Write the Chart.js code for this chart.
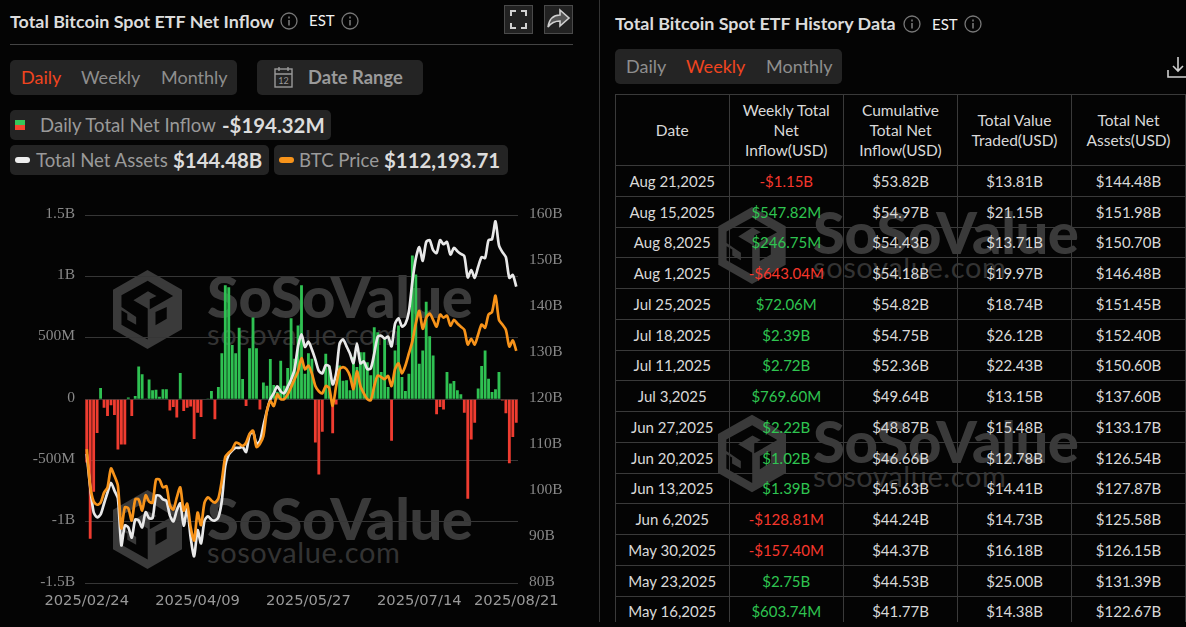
<!DOCTYPE html>
<html>
<head>
<meta charset="utf-8">
<title>Total Bitcoin Spot ETF Net Inflow</title>
<script src="https://cdn.jsdelivr.net/npm/chart.js@4"></script>
<style>
    html, body { margin: 0; padding: 0; background: #040404; }
    body { width: 1186px; height: 627px; overflow: hidden; position: relative; font-family: Lato, sans-serif; color: #d9d9d9; }
    .abs { position: absolute; white-space: nowrap; }
    .panel { background: #242424; border-radius: 5px; }
    .title { font-size: 17.9px; font-weight: 700; color: #dcdcdc; }
    .est { font-size: 15px; color: #f2f2f2; }
    .tab { font-size: 18px; color: #8e8e8e; }
    .active { color: #f0441f; }
    .legend-name { font-size: 18.6px; color: #9a9a9a; }
    .legend-value { font-size: 20.4px; font-weight: 700; color: #dcdcdc; }
    .wm-big { font-size: 58px; font-weight: 900; color: #3a3a3a; letter-spacing: -0.5px; line-height: 1; }
    .wm-small { font-size: 29px; color: #333; letter-spacing: 0.6px; line-height: 1; }
    #chart-wrap { position: absolute; left: 0; top: 195px; width: 590px; height: 425px; }
    #table-wrap { position: absolute; left: 615px; top: 94px; width: 571px; height: 528px; overflow: hidden; }
    table { border-collapse: collapse; table-layout: fixed; width: 570px; font-size: 15px; color: #d9d9d9; }
    th, td { border: 1px solid #3a3a3a; text-align: center; padding: 0; font-weight: 400; }
    th { height: 70px; line-height: 20px; font-size: 15.5px; }
    td { height: 29.75px; }
    .up { color: #2fc451; }
    .down { color: #f5372c; }
</style>
</head>
<body>

<!-- Watermarks sit behind the chart and the table -->
<div id="watermarks"></div>

<div class="abs" style="left:599px;top:0;width:1px;height:622px;background:#333"></div>

<!-- Left panel header -->
<div class="abs title" style="left:10px;top:10px">Total Bitcoin Spot ETF Net Inflow</div>
<div class="abs info" style="left:280px;top:12px"></div>
<div class="abs est" style="left:309px;top:11px">EST</div>
<div class="abs info" style="left:341px;top:12px"></div>
<div class="abs" style="left:504px;top:5px;width:29px;height:29px;background:#222;border:1px solid #4a4a4a;box-sizing:border-box">
    <svg width="27" height="27" fill="none" stroke="#d0d0d0" stroke-width="2"><path d="M6 10V5h5M16 5h5v5M21 17v5h-5M11 22H6v-5"/></svg>
</div>
<div class="abs" style="left:544px;top:5px;width:29px;height:29px;background:#222;border:1px solid #4a4a4a;box-sizing:border-box">
    <svg width="27" height="27"><path d="M15 4l9 8-9 8v-5c-6 0-9 2-12 6 1-7 5-12 12-12z" fill="#555" stroke="#d0d0d0" stroke-width="1.6"/></svg>
</div>
<div class="abs" style="left:10px;top:44px;width:563px;height:1px;background:#444"></div>

<div class="abs panel" style="left:10px;top:60px;width:227px;height:35px"></div>
<div class="abs tab active" style="left:21px;top:66px">Daily</div>
<div class="abs tab" style="left:81px;top:66px">Weekly</div>
<div class="abs tab" style="left:161px;top:66px">Monthly</div>
<div class="abs panel" style="left:257px;top:60px;width:166px;height:35px"></div>
<svg class="abs" style="left:274px;top:66px" width="20" height="23" fill="none" stroke="#9a9a9a" stroke-width="1.4">
    <rect x="1" y="3" width="17" height="18"/><path d="M1 8h17M5 1v4M14 1v4"/>
    <text x="9.5" y="18" font-size="9" font-family="Lato" fill="#9a9a9a" stroke="none" text-anchor="middle">12</text>
</svg>
<div class="abs" style="left:308px;top:66px;font-size:18.4px;font-weight:700;color:#9a9a9a">Date Range</div>

<!-- Legend chips -->
<div class="abs panel" style="left:10px;top:110px;width:321px;height:30px"></div>
<div class="abs" style="left:15px;top:120px;width:10px;height:5px;background:#35c75a"></div>
<div class="abs" style="left:15px;top:125px;width:10px;height:5px;background:#f5442f"></div>
<div class="abs legend-name" style="left:40px;top:114px">Daily Total Net Inflow</div>
<div class="abs legend-value" style="left:222px;top:113px">-$194.32M</div>

<div class="abs panel" style="left:10px;top:145px;width:259px;height:30px"></div>
<div class="abs" style="left:15px;top:157px;width:15px;height:6px;border-radius:3px;background:#eee"></div>
<div class="abs legend-name" style="left:36px;top:149px">Total Net Assets</div>
<div class="abs legend-value" style="left:173px;top:148px">$144.48B</div>

<div class="abs panel" style="left:274px;top:145px;width:234px;height:30px"></div>
<div class="abs" style="left:279px;top:157px;width:15px;height:6px;border-radius:3px;background:#f7931a"></div>
<div class="abs legend-name" style="left:299px;top:149px">BTC Price</div>
<div class="abs legend-value" style="left:384px;top:148px">$112,193.71</div>

<!-- Right panel header -->
<div class="abs title" style="left:615px;top:12px">Total Bitcoin Spot ETF History Data</div>
<div class="abs info" style="left:903px;top:15px"></div>
<div class="abs est" style="left:932px;top:15px">EST</div>
<div class="abs info" style="left:964px;top:15px"></div>
<div class="abs panel" style="left:615px;top:49px;width:227px;height:35px"></div>
<div class="abs tab" style="left:626px;top:55px">Daily</div>
<div class="abs tab active" style="left:686px;top:55px">Weekly</div>
<div class="abs tab" style="left:766px;top:55px">Monthly</div>
<svg class="abs" style="left:1166px;top:56px" width="20" height="22" fill="none" stroke="#cfcfcf" stroke-width="1.6"><path d="M12 1v14M7 10l5 5 5-5M2 14v7h18"/></svg>

<div id="chart-wrap"><canvas id="etf-chart" width="590" height="425"></canvas></div>
<div id="table-wrap"></div>

<script>
// Trading days on the category axis
const tradingDays = [
    '2025/02/24','2025/02/25','2025/02/26','2025/02/27','2025/02/28',
    '2025/03/03','2025/03/04','2025/03/05','2025/03/06','2025/03/07','2025/03/10','2025/03/11','2025/03/12','2025/03/13','2025/03/14',
    '2025/03/17','2025/03/18','2025/03/19','2025/03/20','2025/03/21','2025/03/24','2025/03/25','2025/03/26','2025/03/27','2025/03/28','2025/03/31',
    '2025/04/01','2025/04/02','2025/04/03','2025/04/04','2025/04/07','2025/04/08','2025/04/09','2025/04/10','2025/04/11',
    '2025/04/14','2025/04/15','2025/04/16','2025/04/17','2025/04/21','2025/04/22','2025/04/23','2025/04/24','2025/04/25','2025/04/28','2025/04/29','2025/04/30',
    '2025/05/01','2025/05/02','2025/05/05','2025/05/06','2025/05/07','2025/05/08','2025/05/09','2025/05/12','2025/05/13','2025/05/14','2025/05/15','2025/05/16',
    '2025/05/19','2025/05/20','2025/05/21','2025/05/22','2025/05/23','2025/05/27','2025/05/28','2025/05/29','2025/05/30',
    '2025/06/02','2025/06/03','2025/06/04','2025/06/05','2025/06/06','2025/06/09','2025/06/10','2025/06/11','2025/06/12','2025/06/13',
    '2025/06/16','2025/06/17','2025/06/18','2025/06/20','2025/06/23','2025/06/24','2025/06/25','2025/06/26','2025/06/27','2025/06/30',
    '2025/07/01','2025/07/02','2025/07/03','2025/07/07','2025/07/08','2025/07/09','2025/07/10','2025/07/11',
    '2025/07/14','2025/07/15','2025/07/16','2025/07/17','2025/07/18','2025/07/21','2025/07/22','2025/07/23','2025/07/24','2025/07/25',
    '2025/07/28','2025/07/29','2025/07/30','2025/07/31','2025/08/01','2025/08/04','2025/08/05','2025/08/06','2025/08/07','2025/08/08',
    '2025/08/11','2025/08/12','2025/08/13','2025/08/14','2025/08/15','2025/08/18','2025/08/19','2025/08/20','2025/08/21'
];
const xTickLabels = ['2025/02/24', '2025/04/09', '2025/05/27', '2025/07/14', '2025/08/21'];

// Daily total net inflow, USD millions
const dailyInflow = [
    -516,-1138,-756,-276,90,-70,-138,-50,-130,-410,-370,-370,13,-138,25,267,203,6,160,73,76,19,81,81,-92,
    -65,-150,213,-97,-70,-60,-326,-110,-145,3,2,67,-165,100,375,930,912,442,375,583,165,-55,416,667,416,
    -85,135,110,327,115,60,313,110,254,660,330,600,930,208,375,330,-354,-615,-265,370,275,-278,-43,275,150,
    154,73,343,262,383,383,302,194,586,545,221,490,100,-340,397,600,180,67,208,1172,1018,289,397,794,513,
    356,-124,-65,-84,221,127,148,73,40,-111,-813,-330,-192,86,270,397,167,59,81,221,-11,-116,-523,-308,-192
];

// Total net assets, USD billions
const totalNetAssets = [
    108.1,100.8,95.4,94.3,94.9,97.3,99.7,101.8,100.1,98.4,88.2,92.5,92.1,89.9,93.8,93.6,92.1,95.4,94.1,94.1,99.0,99.0,98.2,97.9,94.7,
    93.4,95.8,97.3,92.5,96.2,89.9,85.8,91.5,88.6,93.6,94.5,93.8,93.6,94.3,97.9,105.5,107.9,108.8,109.4,109.4,109.6,108.5,112.2,112.9,110.3,
    110.9,114.2,117.4,120.0,121.3,122.8,121.7,121.3,122.67,124.3,126.5,131.5,134.1,131.39,132.5,130.8,128.6,126.15,125.6,127.4,127.1,123.2,125.58,132.1,133.0,
    131.5,129.9,127.87,132.1,127.8,128.2,126.54,126.7,129.9,133.6,133.8,133.17,133.6,131.5,136.4,137.6,135.8,136.4,139.0,145.5,150.6,153.1,150.1,154.2,154.6,
    152.4,151.8,154.6,153.7,154.2,151.45,152.9,152.2,151.6,151.1,146.48,148.1,146.4,148.8,150.9,150.7,154.6,154.8,158.7,153.5,151.98,150.9,146.4,147.0,144.48
];

// BTC price, USD
const btcPrice = [
    93500,86500,83500,82900,83300,85200,86200,89800,88400,86500,78400,82400,82200,79900,83900,83900,81800,84700,83500,83300,87700,87700,86200,86400,82800,
    82000,84300,86200,81800,83100,78600,76100,81400,79000,83300,84300,83700,83300,84100,87500,92000,92800,93400,94700,94500,94100,94700,96400,97000,93900,
    94500,96000,100700,102600,101700,103900,103000,103000,103900,105300,106800,108300,110800,108700,109400,107900,105500,104500,104100,105500,105100,101700,105500,108700,109100,
    108700,107400,104900,108300,105500,104100,103000,102800,105500,107500,107200,106800,107400,105500,108700,109800,107900,109400,111700,114000,117400,119800,116400,118500,119300,
    118100,116800,119100,118500,118900,117000,118100,117400,116800,116200,113400,114500,113400,115300,117200,116600,119100,119600,122700,118100,117200,116200,113000,114200,112193.71
];

// History table columns
const tableHeaders = ['Date', 'Weekly Total<br>Net<br>Inflow(USD)', 'Cumulative<br>Total Net<br>Inflow(USD)', 'Total Value<br>Traded(USD)', 'Total Net<br>Assets(USD)'];
const tableDates = ['Aug 21,2025','Aug 15,2025','Aug 8,2025','Aug 1,2025','Jul 25,2025','Jul 18,2025','Jul 11,2025','Jul 3,2025','Jun 27,2025','Jun 20,2025','Jun 13,2025','Jun 6,2025','May 30,2025','May 23,2025','May 16,2025'];
const tableWeekly = ['-$1.15B','$547.82M','$246.75M','-$643.04M','$72.06M','$2.39B','$2.72B','$769.60M','$2.22B','$1.02B','$1.39B','-$128.81M','-$157.40M','$2.75B','$603.74M'];
const tableCumulative = ['$53.82B','$54.97B','$54.43B','$54.18B','$54.82B','$54.75B','$52.36B','$49.64B','$48.87B','$46.66B','$45.63B','$44.24B','$44.37B','$44.53B','$41.77B'];
const tableTraded = ['$13.81B','$21.15B','$13.71B','$19.97B','$18.74B','$26.12B','$22.43B','$13.15B','$15.48B','$12.78B','$14.41B','$14.73B','$16.18B','$25.00B','$14.38B'];
const tableAssets = ['$144.48B','$151.98B','$150.70B','$146.48B','$151.45B','$152.40B','$150.60B','$137.60B','$133.17B','$126.54B','$127.87B','$125.58B','$126.15B','$131.39B','$122.67B'];

// Info icons in the panel headers
document.querySelectorAll('.info').forEach(el => {
    el.innerHTML = '<svg width="18" height="18" fill="none" stroke="#777" stroke-width="1.3"><circle cx="9" cy="9" r="8"/><path d="M9 8v5.5M9 4.5v2" stroke-width="1.6"/></svg>';
});

// Build the SoSoValue watermarks
function addWatermark(logoX, logoY, logoW, logoH, textX, textY, subY) {
    const holder = document.getElementById('watermarks');
    holder.insertAdjacentHTML('beforeend', `
        <svg class="abs" style="left:${logoX}px;top:${logoY}px" width="${logoW}" height="${logoH}" viewBox="0 0 70 80">
            <path d="M35 0L70 20V60L35 80L0 60V20Z" fill="#3a3a3a"/>
            <path d="M8.6 25.5L35.2 10.9L61 26.2L37.3 39.8V29.6L44.2 26.2L35.5 21.4L20.7 30.6L35.2 39.1V70.4L8.6 55.4V40.8L14.5 44.2V50.3L23.5 55.4V47.6L8.6 37.4Z" fill="#040404"/>
            <path d="M43.1 42.5L54.5 37.4V49.3L43.1 56.1Z" fill="#040404"/>
        </svg>
        <div class="abs wm-big" style="left:${textX}px;top:${textY}px">SoSoValue</div>
        <div class="abs wm-small" style="left:${textX}px;top:${subY}px">sosovalue.com</div>`);
}
addWatermark(113, 270, 69, 79, 207, 267, 319);
addWatermark(113, 490, 69, 79, 207, 489, 537);
addWatermark(718, 207, 68, 77, 813, 203, 252);
addWatermark(718, 414, 68, 79, 813, 412, 461);

// Build the history table
function buildTable() {
    let html = '<table><colgroup><col style="width:113.5px"><col style="width:114.5px"><col style="width:114px"><col style="width:114px"><col style="width:114px"></colgroup><tr>';
    tableHeaders.forEach(h => { html += `<th>${h}</th>`; });
    html += '</tr>';
    tableDates.forEach((date, i) => {
        const cls = tableWeekly[i].startsWith('-') ? 'down' : 'up';
        html += `<tr><td>${date}</td><td class="${cls}">${tableWeekly[i]}</td><td>${tableCumulative[i]}</td><td>${tableTraded[i]}</td><td>${tableAssets[i]}</td></tr>`;
    });
    document.getElementById('table-wrap').innerHTML = html + '</table>';
}
buildTable();

// Format the left axis, values are in millions
function formatInflow(value) {
    if (value === 0) return '0';
    if (Math.abs(value) >= 1000) return (value / 1000) + 'B';
    return value + 'M';
}

const tickFont = { family: '"Liberation Serif", serif', size: 15.5 };

new Chart(document.getElementById('etf-chart').getContext('2d'), {
    data: {
        labels: tradingDays,
        datasets: [
            {
                type: 'line',
                label: 'BTC Price',
                data: btcPrice,
                yAxisID: 'yPrice',
                borderColor: '#f7931a',
                borderWidth: 2.7,
                pointRadius: 0,
                tension: 0.25,
                order: 1
            },
            {
                type: 'line',
                label: 'Total Net Assets',
                data: totalNetAssets,
                yAxisID: 'yAssets',
                borderColor: '#e8e8e8',
                borderWidth: 2.7,
                pointRadius: 0,
                tension: 0.25,
                order: 2
            },
            {
                type: 'bar',
                label: 'Daily Total Net Inflow',
                data: dailyInflow,
                yAxisID: 'yInflow',
                backgroundColor: dailyInflow.map(v => v >= 0 ? '#2fc152' : '#ef3c30'),
                categoryPercentage: 1,
                barPercentage: 0.82,
                order: 3
            }
        ]
    },
    options: {
        responsive: false,
        animation: false,
        layout: { padding: { top: 18 } },
        plugins: { legend: { display: false }, tooltip: { enabled: false } },
        scales: {
            x: {
                grid: { display: false },
                border: { display: false },
                afterFit: scale => { scale.height = 37; },
                ticks: {
                    autoSkip: false,
                    maxRotation: 0,
                    padding: 1,
                    color: '#999',
                    font: { family: '"DejaVu Sans", sans-serif', size: 14.7 },
                    callback: function(value) {
                        const label = this.getLabelForValue(value);
                        return xTickLabels.includes(label) ? label : '';
                    }
                }
            },
            yInflow: {
                position: 'left',
                min: -1500,
                max: 1500,
                afterFit: scale => { scale.width = 85; },
                grid: { color: '#363636', drawTicks: false },
                border: { display: false },
                ticks: { stepSize: 500, padding: 10, labelOffset: -1.5, color: '#888', font: tickFont, callback: formatInflow }
            },
            yAssets: {
                position: 'right',
                min: 80,
                max: 160,
                afterFit: scale => { scale.width = 72; },
                grid: { display: false, drawTicks: false },
                border: { display: false },
                ticks: { stepSize: 10, padding: 11, labelOffset: -1.5, color: '#888', font: tickFont, callback: v => v + 'B' }
            },
            yPrice: {
                display: false,
                min: 68000,
                max: 138000
            }
        }
    }
});
</script>
</body>
</html>
